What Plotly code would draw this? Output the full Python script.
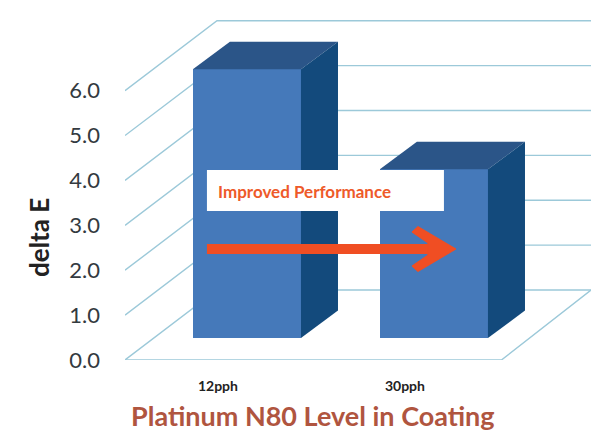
import plotly.graph_objects as go

categories = ["12pph", "30pph"]
values = [5.99, 3.76]
y_ticks = [0, 1, 2, 3, 4, 5, 6]

# Fake-3D geometry, in axis units
BASE = 0.49
OFFSET = -0.134
WIDTH = 0.578
DX, DY = 0.198, 0.61
WALL_DX, WALL_DY = 0.492, 1.559
X0, X1 = -0.497, 1.995
FLOOR_X = 1.516
Y1 = 8.02


def px(x):
    return (x - 218) / 187


def py(y):
    return (360 - y) / 44.9


def paper_x(x):
    return (x - 125) / 466


def paper_y(y):
    return (360 - y) / 360


idx = list(range(len(categories)))
fig = go.Figure()

shapes = []
GRID = "#9cc9d9"
for v in y_ticks:
    shapes.append(dict(type="path", layer="below", xref="x", yref="y",
                       path=f"M{X0},{v} L{X0 + WALL_DX},{v + WALL_DY} L{X1},{v + WALL_DY}",
                       line=dict(color=GRID, width=1.4)))
shapes.append(dict(type="path", layer="below", xref="x", yref="y",
                   path=f"M{X0},0 L{FLOOR_X},0 L{X1},{WALL_DY}",
                   line=dict(color=GRID, width=1.4)))

fig.add_trace(go.Bar(x=idx, y=values, base=BASE, width=WIDTH, offset=OFFSET,
                     marker=dict(color="#4579ba", line=dict(width=0)), showlegend=False,
                     hovertemplate="%{y}<extra></extra>"))

for i, v in zip(idx, values):
    left = i + OFFSET
    right = left + WIDTH
    top = BASE + v
    fig.add_trace(go.Scatter(x=[left, left + DX, right + DX, right, left],
                             y=[top, top + DY, top + DY, top, top], mode="lines", fill="toself",
                             fillcolor="#2b5588", line=dict(width=0), showlegend=False, hoverinfo="skip"))
    fig.add_trace(go.Scatter(x=[right, right + DX, right + DX, right, right],
                             y=[top, top + DY, BASE + DY, BASE, top], mode="lines", fill="toself",
                             fillcolor="#134a7c", line=dict(width=0), showlegend=False, hoverinfo="skip"))

# White callout and red arrow
RED = "#f04e23"
shapes.append(dict(type="rect", layer="above", xref="x", yref="y",
                   x0=px(207), x1=px(444), y0=py(211), y1=py(170),
                   fillcolor="white", line=dict(width=0)))
shapes.append(dict(type="line", layer="above", xref="x", yref="y",
                   x0=px(207), x1=px(436), y0=py(249), y1=py(249),
                   line=dict(color=RED, width=10)))
head = [(412, 232), (418, 226.5), (456, 249), (418, 271.5), (412, 266), (428, 255), (428, 243)]
head_path = "M" + " L".join(f"{px(a)},{py(b)}" for a, b in head) + " Z"
shapes.append(dict(type="path", layer="above", xref="x", yref="y", path=head_path,
                   fillcolor=RED, line=dict(color=RED, width=1)))

fig.update_layout(
    width=591, height=439,
    margin=dict(l=125, r=0, t=0, b=79),
    paper_bgcolor="white", plot_bgcolor="white",
    shapes=shapes,
    annotations=[
        dict(x=paper_x(304), y=paper_y(191), xref="paper", yref="paper", text="<b>Improved Performance</b>",
             xanchor="center", yanchor="middle",
             showarrow=False, font=dict(family="Lato", size=17, color="#ee5a2a")),
        dict(x=paper_x(313), y=paper_y(416), xref="paper", yref="paper", text="<b>Platinum N80 Level in Coating</b>",
             xanchor="center", yanchor="middle",
             showarrow=False, font=dict(family="Lato", size=27, color="#b0553f")),
        dict(x=paper_x(39), y=paper_y(238), xref="paper", yref="paper", text="<b>delta E</b>", textangle=-90,
             xanchor="center", yanchor="middle",
             showarrow=False, font=dict(family="Lato", size=26, color="#222222")),
    ],
    xaxis=dict(range=[X0, X1], tickmode="array", tickvals=idx, ticktext=[f"<b>{c}</b>" for c in categories],
               showgrid=False, zeroline=False, showline=False, ticks="", ticklabelstandoff=16,
               tickfont=dict(family="Lato", size=14, color="#222222")),
    yaxis=dict(range=[0, Y1], tickmode="array", tickvals=y_ticks, tickformat=".1f",
               showgrid=False, zeroline=False, showline=False, ticks="", ticklabelstandoff=24,
               tickfont=dict(family="Lato", size=22, color="#333a40")),
    bargap=0,
)

fig.write_html("out.html", config=dict(displayModeBar=False),
               post_script="document.body.style.margin='0';")
